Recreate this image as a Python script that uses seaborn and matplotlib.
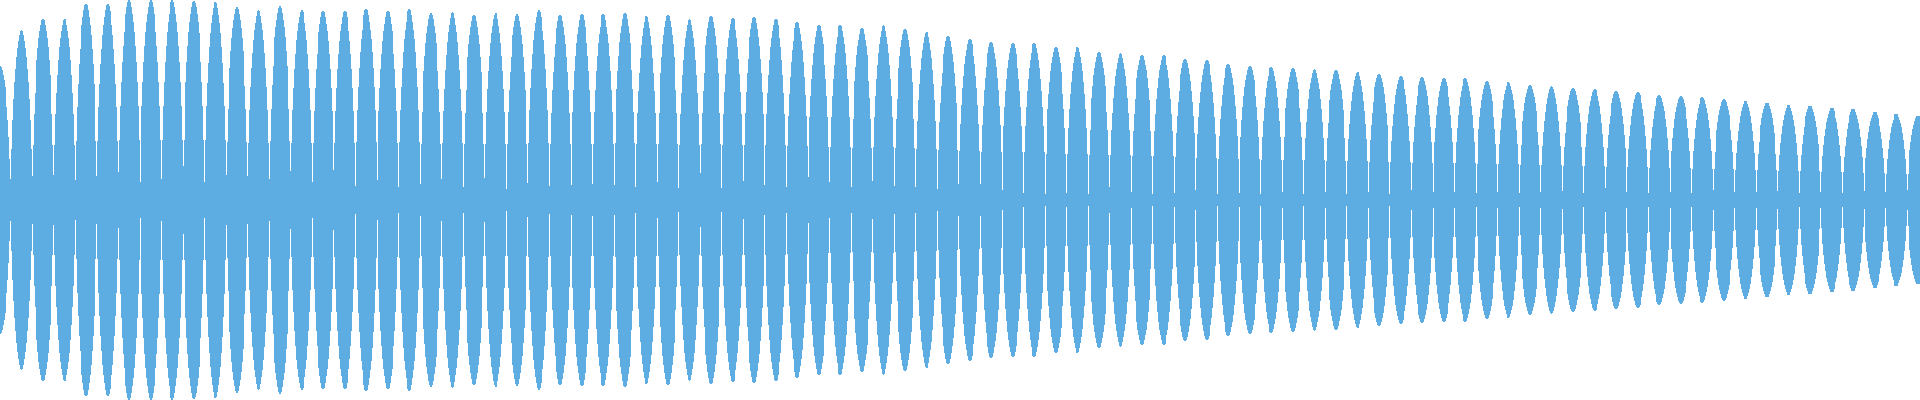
import numpy as np
import pandas as pd
import matplotlib
matplotlib.use("Agg")
import matplotlib.pyplot as plt
import seaborn as sns

# -------------------------
# Data
# -------------------------
# peak amplitude of each lobe of the waveform, left to right (1.0 = top edge)
lobe_peaks = [
    0.67, 0.85, 0.905, 0.905, 0.98, 0.98, 1.0, 1.0, 1.0, 0.995,
    0.99, 0.963, 0.95, 0.967, 0.947, 0.945, 0.945, 0.955, 0.945, 0.955,
    0.933, 0.94, 0.925, 0.933, 0.927, 0.948, 0.925, 0.93, 0.93, 0.935,
    0.92, 0.925, 0.905, 0.92, 0.91, 0.915, 0.905, 0.89, 0.875, 0.875,
    0.86, 0.875, 0.855, 0.84, 0.82, 0.805, 0.79, 0.785, 0.785, 0.765,
    0.765, 0.74, 0.735, 0.725, 0.725, 0.705, 0.70, 0.68, 0.67, 0.665,
    0.66, 0.655, 0.65, 0.64, 0.63, 0.62, 0.615, 0.61, 0.61, 0.595,
    0.59, 0.575, 0.57, 0.56, 0.555, 0.545, 0.54, 0.525, 0.52, 0.515,
    0.505, 0.495, 0.485, 0.475, 0.47, 0.46, 0.455, 0.44, 0.43, 0.42,
]

# amplitude left at the thin gap between two lobes
gap_floor = [
    0.105, 0.117, 0.125, 0.10, 0.117, 0.14, 0.087, 0.105, 0.17, 0.087,
    0.125, 0.12, 0.105, 0.145, 0.09,
    0.15, 0.07, 0.10, 0.065, 0.08, 0.105, 0.065, 0.11, 0.055, 0.085,
    0.07, 0.075, 0.08, 0.075, 0.065,
    0.09, 0.06, 0.135, 0.06, 0.095, 0.075, 0.065, 0.115, 0.09, 0.065,
    0.095, 0.07, 0.065, 0.055, 0.08,
    0.08, 0.05, 0.035, 0.03, 0.035, 0.03, 0.065, 0.04, 0.03, 0.035,
    0.05, 0.03, 0.035, 0.03,
    0.04, 0.03, 0.04, 0.03, 0.04, 0.03, 0.05, 0.04, 0.04, 0.035,
    0.04, 0.035, 0.04, 0.045, 0.035,
    0.06, 0.04, 0.035, 0.04, 0.035, 0.05, 0.04, 0.04, 0.045, 0.035,
    0.04, 0.035, 0.045, 0.04, 0.05,
]

# shape of one lobe, column by column, relative to its peak
lobe_profile = [
    0.30, 0.47, 0.59, 0.69, 0.77, 0.84, 0.89, 0.93, 0.965, 0.99, 1.0,
    0.99, 0.965, 0.93, 0.89, 0.84, 0.77, 0.69, 0.59, 0.47, 0.30,
]

# -------------------------
# Build the sample table (left edge of each column, amplitude)
# -------------------------
px_per_lobe = 21.55
# non-antialiased fills grow to any touched pixel, so the gap has to
# span almost 2 px to leave one clean white column
gap_w = 1.99 / px_per_lobe
col_w = (1 - gap_w) / len(lobe_profile)

rows = []
for j, peak in enumerate(lobe_peaks):
    left = j - 0.5
    for k, rel in enumerate(lobe_profile):
        rows.append((left + k * col_w, peak * rel))
    floor = gap_floor[j] if j < len(gap_floor) else peak * lobe_profile[-1]
    rows.append((left + 1 - gap_w, floor))
rows.append((len(lobe_peaks) - 0.5, rows[-1][1]))
df = pd.DataFrame(rows, columns=["t", "amp"])

# -------------------------
# Plot
# -------------------------
sns.set_theme(style="white")
plt.rcParams["path.simplify"] = False
fig = plt.figure(figsize=(19.2, 4), dpi=100)
ax = fig.add_axes([0, 0, 1, 1])
ax.fill_between(df["t"], -df["amp"], df["amp"], step="post",
                color="#5DADE2", linewidth=0, antialiased=False, snap=False)

x0 = -0.043
ax.set_xlim(x0, x0 + 1920 / px_per_lobe)
ax.set_ylim(-1, 1)
ax.axis("off")

fig.savefig("out.png", dpi=100, facecolor="white")
